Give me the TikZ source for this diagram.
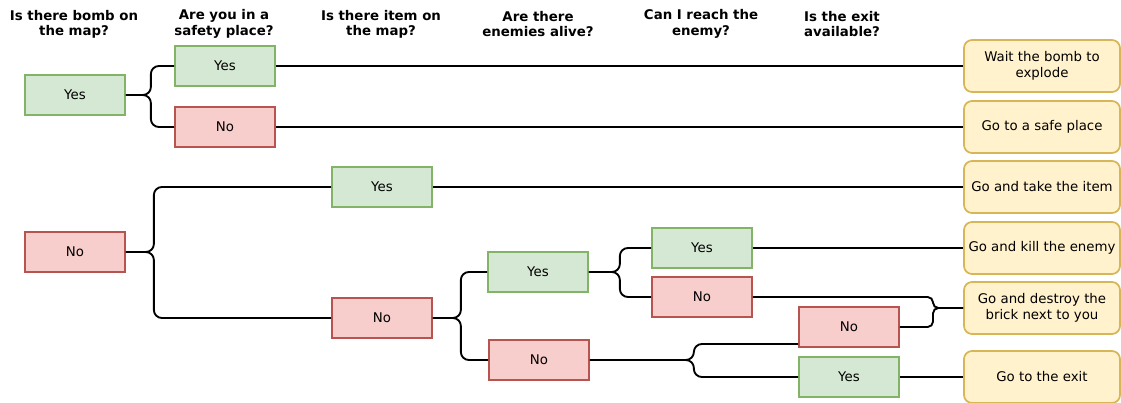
\documentclass[tikz,border=0pt]{standalone}
\usepackage{fontspec}
\setmainfont{DejaVu Sans}

\definecolor{yesfill}{HTML}{D5E8D4}
\definecolor{yesline}{HTML}{82B366}
\definecolor{nofill}{HTML}{F8CECC}
\definecolor{noline}{HTML}{B85450}
\definecolor{actfill}{HTML}{FFF2CC}
\definecolor{actline}{HTML}{D6B656}

\tikzset{
  box/.style={line width=1.3pt, minimum width=75pt, minimum height=30pt,
    inner sep=0pt, font=\fontsize{10}{12}\selectfont},
  yesbox/.style={box, draw=yesline, fill=yesfill},
  nobox/.style={box, draw=noline, fill=nofill},
  actbox/.style={box, draw=actline, fill=actfill, rounded corners=6pt,
    minimum width=117pt, minimum height=39pt, align=center},
  head/.style={font=\fontsize{10}{11.5}\selectfont\bfseries, align=center},
  link/.style={line width=1.4pt, rounded corners=6pt}
}

\begin{document}
\begin{tikzpicture}[x=0.75pt, y=-0.75pt]
\useasboundingbox (0,0) rectangle (1121,403);

% questions
\node[head] (q1) at (74,24) {Is there bomb on\\the map?};
\node[head] (q2) at (224,24) {Are you in a\\safety place?};
\node[head] (q3) at (381,24) {Is there item on\\the map?};
\node[head] (q4) at (538,24) {Are there\\enemies alive?};
\node[head] (q5) at (701,24) {Can I reach the\\enemy?};
\node[head] (q6) at (842,24) {Is the exit\\available?};

% answers
\node[yesbox] (yes1) at (75,95) {Yes};
\node[nobox] (no1) at (75,252) {No};
\node[yesbox] (yes2) at (225,66) {Yes};
\node[nobox] (no2) at (225,127) {No};
\node[yesbox] (yes3) at (382,187) {Yes};
\node[nobox] (no3) at (382,318) {No};
\node[yesbox] (yes4) at (538,272) {Yes};
\node[nobox] (no4) at (539,360) {No};
\node[yesbox] (yes5) at (702,248) {Yes};
\node[nobox] (no5) at (702,297) {No};
\node[nobox] (no6) at (849,327) {No};
\node[yesbox] (yes6) at (849,377) {Yes};

% actions
\node[actbox] (wait) at (1042,66) {Wait the bomb to\\explode};
\node[actbox] (safe) at (1042,127) {Go to a safe place};
\node[actbox] (take) at (1042,187) {Go and take the item};
\node[actbox] (kill) at (1042,248) {Go and kill the enemy};
\node[actbox] (brick) at (1042,308) {Go and destroy the\\brick next to you};
\node[actbox] (exit) at (1042,377) {Go to the exit};

% links
\coordinate (join) at (933,308);

\draw[link] (yes1.east) -- ++(25,0) |- (yes2.west);
\draw[link] (yes1.east) -- ++(25,0) |- (no2.west);
\draw[link] (no1.east) -- ++(28,0) |- (yes3.west);
\draw[link] (no1.east) -- ++(28,0) |- (no3.west);
\draw[link] (no3.east) -- ++(28,0) |- (yes4.west);
\draw[link] (no3.east) -- ++(28,0) |- (no4.west);
\draw[link] (yes4.east) -- ++(31,0) |- (yes5.west);
\draw[link] (yes4.east) -- ++(31,0) |- (no5.west);
\draw[link] (no4.east) -- ++(104,0) |- ([yshift=-12.75pt]no6.west);
\draw[link] (no4.east) -- ++(104,0) |- (yes6.west);
\draw[link, rounded corners=4pt] (no5.east) -| (join) -- (brick.west);
\draw[link, rounded corners=4pt] (no6.east) -| (join) -- (brick.west);

\draw[link] (yes2) -- (wait);
\draw[link] (no2) -- (safe);
\draw[link] (yes3) -- (take);
\draw[link] (yes5) -- (kill);
\draw[link] (yes6) -- (exit);
\end{tikzpicture}
\end{document}
